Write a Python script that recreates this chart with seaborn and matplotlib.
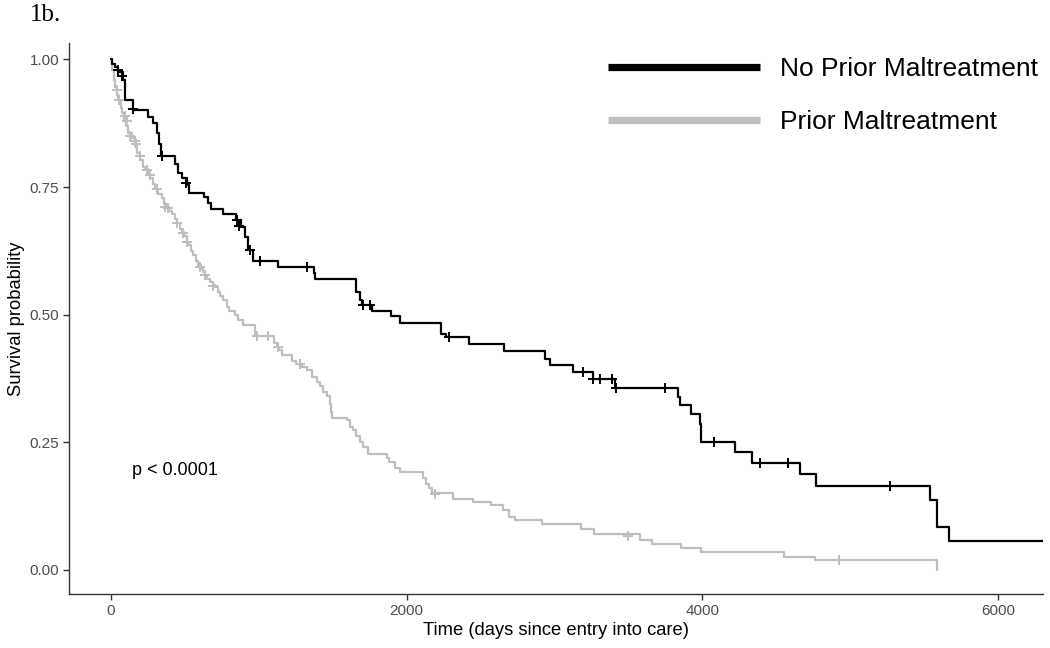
import numpy as np
import pandas as pd
import matplotlib
matplotlib.use("Agg")
import matplotlib.pyplot as plt
import seaborn as sns
from matplotlib.lines import Line2D

# ---------------- data ----------------
groups = ["No Prior Maltreatment", "Prior Maltreatment"]

no_prior_time = [0, 10, 25, 45, 80, 95, 151, 252, 286, 309, 327, 338, 433, 455, 478,
                 512, 530, 629, 658, 675, 756, 845, 878, 907, 930, 963, 1128, 1373,
                 1380, 1658, 1685, 1700, 1764, 1893, 1955, 2233, 2270, 2420, 2660,
                 2936, 2970, 3124, 3259, 3410, 3834, 3850, 3924, 3985, 3992, 4222,
                 4335, 4662, 4768, 5541, 5587, 5670, 6310]
no_prior_surv = [1.0, 0.99, 0.985, 0.975, 0.96, 0.921, 0.90, 0.888, 0.875, 0.855, 0.835,
                 0.81, 0.796, 0.777, 0.767, 0.754, 0.738, 0.731, 0.718, 0.706, 0.698,
                 0.685, 0.672, 0.652, 0.626, 0.605, 0.594, 0.581, 0.570, 0.545, 0.528,
                 0.519, 0.507, 0.497, 0.483, 0.463, 0.457, 0.442, 0.428, 0.413, 0.401,
                 0.388, 0.375, 0.357, 0.339, 0.323, 0.305, 0.285, 0.250, 0.231, 0.210,
                 0.1875, 0.165, 0.138, 0.084, 0.057, 0.057]

prior_time = [0, 10, 20, 27, 40, 50, 65, 75, 88, 100, 117, 140, 160, 174, 196, 215, 230,
              250, 264, 285, 298, 320, 343, 360, 377, 395, 410, 430, 445, 465, 478, 495,
              512, 523, 540, 557, 575, 591, 610, 624, 636, 650, 670, 690, 704, 725, 740,
              760, 783, 800, 839, 860, 895, 974, 1100, 1121, 1140, 1155, 1223, 1250,
              1290, 1324, 1360, 1392, 1414, 1437, 1460, 1482, 1490, 1493, 1595, 1617,
              1640, 1660, 1685, 1705, 1741, 1865, 1880, 1920, 1955, 2113, 2130, 2150,
              2169, 2316, 2452, 2571, 2654, 2690, 2733, 2918, 3180, 3268, 3579, 3658,
              3860, 3995, 4555, 4763, 5591]
prior_surv = [1.0, 0.98, 0.96, 0.945, 0.93, 0.92, 0.905, 0.895, 0.884, 0.87, 0.855, 0.845,
              0.83, 0.816, 0.803, 0.79, 0.786, 0.775, 0.767, 0.755, 0.747, 0.737, 0.728,
              0.717, 0.708, 0.703, 0.698, 0.688, 0.679, 0.668, 0.662, 0.655, 0.643, 0.636,
              0.625, 0.617, 0.606, 0.597, 0.590, 0.583, 0.577, 0.570, 0.563, 0.558, 0.554,
              0.545, 0.537, 0.528, 0.515, 0.507, 0.499, 0.490, 0.479, 0.458, 0.445, 0.437,
              0.430, 0.421, 0.410, 0.404, 0.397, 0.391, 0.378, 0.368, 0.360, 0.349, 0.340,
              0.326, 0.310, 0.297, 0.293, 0.280, 0.274, 0.262, 0.251, 0.240, 0.227, 0.220,
              0.212, 0.200, 0.192, 0.180, 0.169, 0.160, 0.150, 0.140, 0.133, 0.127, 0.118,
              0.104, 0.097, 0.0895, 0.081, 0.070, 0.058, 0.050, 0.043, 0.036, 0.0255,
              0.019, 0.0]

no_prior_cens_time = [50, 72, 151, 343, 507, 850, 868, 940, 1008, 1324, 1707, 1752, 2290,
                      3196, 3263, 3309, 3388, 3417, 3748, 4078, 4391, 4583, 5271]
no_prior_cens_surv = [0.979, 0.967, 0.903, 0.81, 0.757, 0.685, 0.673, 0.626, 0.605, 0.594,
                      0.519, 0.519, 0.457, 0.388, 0.375, 0.375, 0.375, 0.357, 0.357, 0.250,
                      0.210, 0.210, 0.165]

prior_cens_time = [38, 56, 95, 106, 128, 162, 170, 196, 241, 264, 309, 365, 388, 445, 489,
                   512, 602, 636, 692, 986, 1064, 1132, 1279, 2192, 3500, 4928]
prior_cens_surv = [0.94, 0.92, 0.89, 0.88, 0.85, 0.84, 0.835, 0.81, 0.783, 0.773, 0.747,
                   0.711, 0.708, 0.68, 0.66, 0.643, 0.594, 0.577, 0.556, 0.458, 0.458,
                   0.437, 0.404, 0.148, 0.067, 0.019]

x_ticks = [0, 2000, 4000, 6000]
y_ticks = [0.00, 0.25, 0.50, 0.75, 1.00]
y_tick_labels = ["0.00", "0.25", "0.50", "0.75", "1.00"]
p_label = "p < 0.0001"
panel_label = "1b."
x_title = "Time (days since entry into care)"
y_title = "Survival probability"

# ---------------- style ----------------
sns.set_style("white")
plt.rcParams["font.family"] = ["Liberation Sans", "DejaVu Sans"]
plt.rcParams["text.color"] = "black"

colors = {groups[0]: "#000000", groups[1]: "#BEBEBE"}

curves = pd.DataFrame({
    "time": no_prior_time + prior_time,
    "surv": no_prior_surv + prior_surv,
    "group": [groups[0]] * len(no_prior_time) + [groups[1]] * len(prior_time),
})
cens = pd.DataFrame({
    "time": no_prior_cens_time + prior_cens_time,
    "surv": no_prior_cens_surv + prior_cens_surv,
    "group": [groups[0]] * len(no_prior_cens_time) + [groups[1]] * len(prior_cens_time),
})

fig = plt.figure(figsize=(10.5, 6.48), dpi=100)
ax = fig.add_axes([69 / 1050, 1 - 594 / 648, (1043 - 69) / 1050, (594 - 43) / 648])

# draw grey first so black lies on top
for g in [groups[1], groups[0]]:
    sub = curves[curves.group == g]
    sns.lineplot(data=sub, x="time", y="surv", color=colors[g], drawstyle="steps-post",
                 estimator=None, sort=False, lw=1.6, ax=ax, legend=False)
    csub = cens[cens.group == g]
    sns.scatterplot(data=csub, x="time", y="surv", color=colors[g], marker="+", s=55,
                    linewidth=1.4, ax=ax, legend=False, zorder=3)

ax.set_xlim(-284, 6306)
ax.set_ylim(-0.047, 1.032)
ax.set_xticks(x_ticks)
ax.set_yticks(y_ticks)
ax.set_yticklabels(y_tick_labels)
ax.tick_params(axis="both", which="major", direction="out", length=4, width=1,
               color="#333333", labelsize=11, labelcolor="#4D4D4D", pad=3,
               bottom=True, left=True)
for side in ["top", "right"]:
    ax.spines[side].set_visible(False)
for side in ["left", "bottom"]:
    ax.spines[side].set_color("#333333")
    ax.spines[side].set_linewidth(1)

ax.set_xlabel(x_title, fontsize=13.2, color="black", labelpad=3)
ax.set_ylabel(y_title, fontsize=13.2, color="black", labelpad=3)

ax.text(142, 0.195, p_label, fontsize=13, color="black", ha="left", va="center")

handles = [Line2D([], [], color=colors[g], lw=5.2, solid_capstyle="butt") for g in groups]
leg = ax.legend(handles, groups, loc="upper left", bbox_to_anchor=(608 / 1050, 1 - 57 / 648),
                bbox_transform=fig.transFigure, frameon=False, fontsize=19,
                handlelength=5.76, handletextpad=0.76, labelspacing=1.1, borderpad=0,
                borderaxespad=0, labelcolor="black")

fig.text(30 / 1050, 1 - 21 / 648, panel_label, family=["Liberation Serif", "DejaVu Serif"],
         fontsize=18, ha="left", va="baseline", color="black")

fig.savefig("out.png", dpi=100)
